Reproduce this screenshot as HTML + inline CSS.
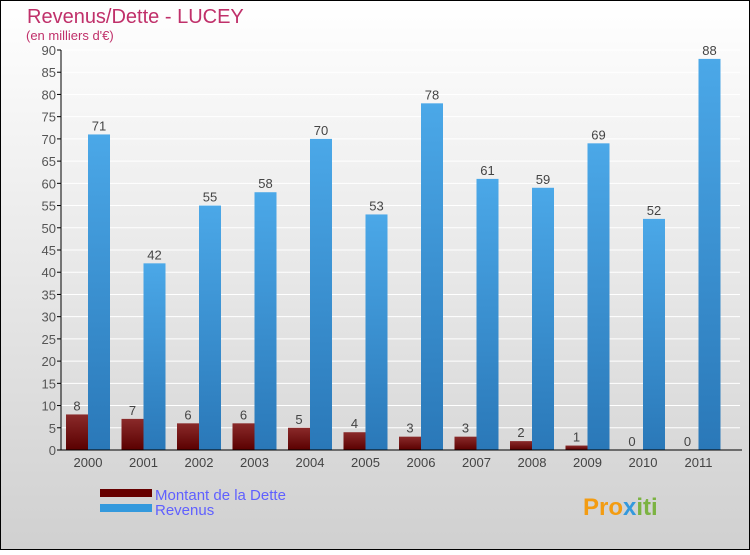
<!DOCTYPE html>
<html><head><meta charset="utf-8"><style>
body{margin:0;}
#wrap{width:750px;height:550px;position:relative;font-family:"Liberation Sans",sans-serif;}
svg text{font-family:"Liberation Sans",sans-serif;}
</style></head><body>
<div id="wrap">
<svg id="chart" width="750" height="550" xmlns="http://www.w3.org/2000/svg">
<defs>
<linearGradient id="bg" x1="0" y1="0" x2="0" y2="1"><stop offset="0" stop-color="#ffffff"/><stop offset="1" stop-color="#d0d0d0"/></linearGradient>
<linearGradient id="gd" x1="0" y1="0" x2="0" y2="1"><stop offset="0" stop-color="#8a2a2a"/><stop offset="1" stop-color="#5a0000"/></linearGradient>
<linearGradient id="gr" x1="0" y1="0" x2="0" y2="1"><stop offset="0" stop-color="#4ba8e8"/><stop offset="1" stop-color="#2a78b8"/></linearGradient>
</defs>
<rect x="0.5" y="0.5" width="749" height="549" fill="url(#bg)" stroke="#000"/>
<text x="27" y="23" font-size="20" fill="#c0306a">Revenus/Dette - LUCEY</text>
<text x="26" y="40" font-size="13" fill="#c0306a">(en milliers d'€)</text>
<g id="plot"></g>
<g>
<rect x="100" y="489" width="52" height="8" fill="#660000"/>
<text x="155" y="500" font-size="15" fill="#6060ff">Montant de la Dette</text>
<rect x="100" y="504" width="52" height="8" fill="#3399dd"/>
<text x="155" y="515" font-size="15" fill="#6060ff">Revenus</text>
</g>
<text x="583" y="515" font-size="24" font-weight="bold" fill="#f39c12">Pro<tspan fill="#3399dd">x</tspan><tspan fill="#7cb342">iti</tspan></text>
</svg>
</div>
<script>
const years=["2000","2001","2002","2003","2004","2005","2006","2007","2008","2009","2010","2011"];
const dette=[8,7,6,6,5,4,3,3,2,1,0,0];
const revenus=[71,42,55,58,70,53,78,61,59,69,52,88];
const yTicks=[0,5,10,15,20,25,30,35,40,45,50,55,60,65,70,75,80,85,90];
const NS="http://www.w3.org/2000/svg";
const g=document.getElementById('plot');
const x0=61,band=55.5,base=450,yMax=90,ph=400,bw=22;
function y(v){return base-v/yMax*ph;}
function cx(i){return x0+27+i*band;}
function mk(t,a){const e=document.createElementNS(NS,t);for(const k in a)e.setAttribute(k,a[k]);g.appendChild(e);return e;}
yTicks.forEach(v=>{
 const l=mk('line',{x1:x0,x2:740,y1:y(v),y2:y(v),stroke:'#ffffff','stroke-width':1});
 
 
 const tk=mk('line',{x1:x0-4,x2:x0,y1:y(v),y2:y(v),stroke:'#000'});
 
 
 const t=mk('text',{x:x0-5,y:y(v)+5,'font-size':13,fill:'#555','text-anchor':'end'});
 t.textContent=v;
 
 
});
years.forEach((yr,i)=>{
 const c=cx(i);
 const d=mk('rect',{x:c-bw,y:y(dette[i]),width:bw,height:base-y(dette[i]),fill:'url(#gd)'});
 
 
 const r=mk('rect',{x:c,y:y(revenus[i]),width:bw,height:base-y(revenus[i]),fill:'url(#gr)'});
 
 
 const dl=mk('text',{x:c-bw/2,y:y(dette[i])-4,'font-size':13,fill:'#444','text-anchor':'middle'});
 dl.textContent=dette[i];
 
 
 const rl=mk('text',{x:c+bw/2,y:y(revenus[i])-4,'font-size':13,fill:'#444','text-anchor':'middle'});
 rl.textContent=revenus[i];
 
 
 const xl=mk('text',{x:c,y:467,'font-size':13,fill:'#444','text-anchor':'middle'});
 xl.textContent=yr;
 
 
});
const ya=mk('line',{x1:x0,x2:x0,y1:y(90),y2:base,stroke:'#000'});


const xa=mk('line',{x1:x0,x2:742,y1:base,y2:base,stroke:'#000'});


</script>
</body></html>
